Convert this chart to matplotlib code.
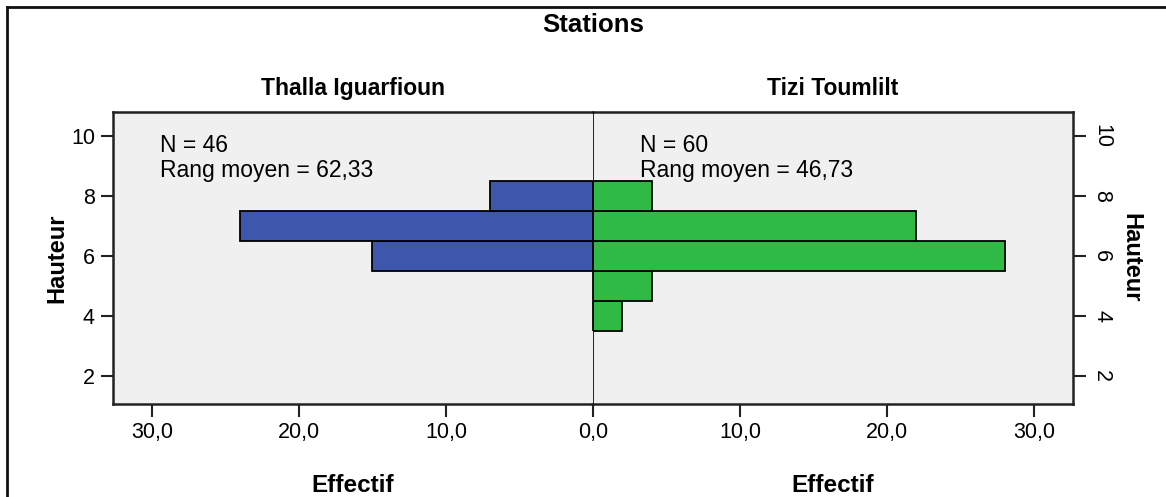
import numpy as np
import matplotlib
matplotlib.use('Agg')
from matplotlib import pyplot as plt
from matplotlib.ticker import FuncFormatter
from matplotlib.lines import Line2D

plt.rcParams['font.family'] = ['Liberation Sans', 'DejaVu Sans']

# height classes (bin centres) and counts per station
hauteur = [4, 5, 6, 7, 8]
thalla = [0, 0, 15, 24, 7]
tizi = [2, 4, 28, 22, 4]
stations = ['Thalla Iguarfioun', 'Tizi Toumlilt']
stats = ['N = 46\nRang moyen = 62,33', 'N = 60\nRang moyen = 46,73']
xticks = [0, 10, 20, 30]
yticks = [2, 4, 6, 8, 10]

W, H = 1166, 497
fig = plt.figure(figsize=(W/100., H/100.), dpi=100)
fig.patch.set_facecolor('white')

def px(x0, y0, x1, y1):
    return (x0/W, 1-y1/H, (x1-x0)/W, (y1-y0)/H)

axL = fig.add_axes(px(113, 112, 593, 404))
axR = fig.add_axes(px(593, 112, 1073, 404))

comma = FuncFormatter(lambda v, p: ('%.1f' % v).replace('.', ','))
xmax = 32.65
ylim = (1.07, 10.8)

for ax, counts, col in [(axL, thalla, '#3e56ac'), (axR, tizi, '#2fba45')]:
    ax.set_facecolor('#f0f0f0')
    ax.barh(hauteur, counts, height=1.0, color=col, edgecolor='black', lw=1.3, zorder=2)
    ax.set_ylim(*ylim)
    ax.set_yticks(yticks)
    ax.set_xticks(xticks)
    ax.xaxis.set_major_formatter(comma)
    for s in ax.spines.values():
        s.set_linewidth(1.8)
        s.set_color('#222222')
    ax.tick_params(axis='both', length=9, width=1.5, color='#222222', labelsize=15.5, pad=4)

axL.set_xlim(xmax, 0)
axL.spines['right'].set_visible(False)
axL.tick_params(axis='y', left=True, right=False)
axL.set_ylabel('Hauteur', fontsize=17, fontweight='bold', labelpad=2)

axR.set_xlim(0, xmax)
axR.spines['left'].set_visible(False)
axR.set_xticks(xticks[1:])
axR.yaxis.tick_right()
axR.yaxis.set_label_position('right')
for lab in axR.get_yticklabels():
    lab.set_rotation(-90)
    lab.set_va('center')
axR.set_ylabel('Hauteur', fontsize=17, fontweight='bold', rotation=-90, labelpad=22)
axR.axvline(0, color='black', lw=1.2, zorder=3)

for ax, st in [(axL, stations[0]), (axR, stations[1])]:
    ax.set_title(st, fontsize=16.5, fontweight='bold', pad=12)
    ax.set_xlabel('Effectif', fontsize=17.5, fontweight='bold', labelpad=22)

axL.text(0.098, 0.925, stats[0], transform=axL.transAxes, fontsize=16.5, va='top', ha='left', linespacing=1.12)
axR.text(0.098, 0.925, stats[1], transform=axR.transAxes, fontsize=16.5, va='top', ha='left', linespacing=1.12)

fig.text(593/W, 1-25/H, 'Stations', fontsize=18.5, fontweight='bold', ha='center', va='center')

# outer frame
fig.add_artist(Line2D([7/W, 7/W], [0, 1-7/H], transform=fig.transFigure, color='#111111', lw=2))
fig.add_artist(Line2D([7/W, 1], [1-7/H, 1-7/H], transform=fig.transFigure, color='#111111', lw=2))

plt.savefig('out.png', dpi=100)
